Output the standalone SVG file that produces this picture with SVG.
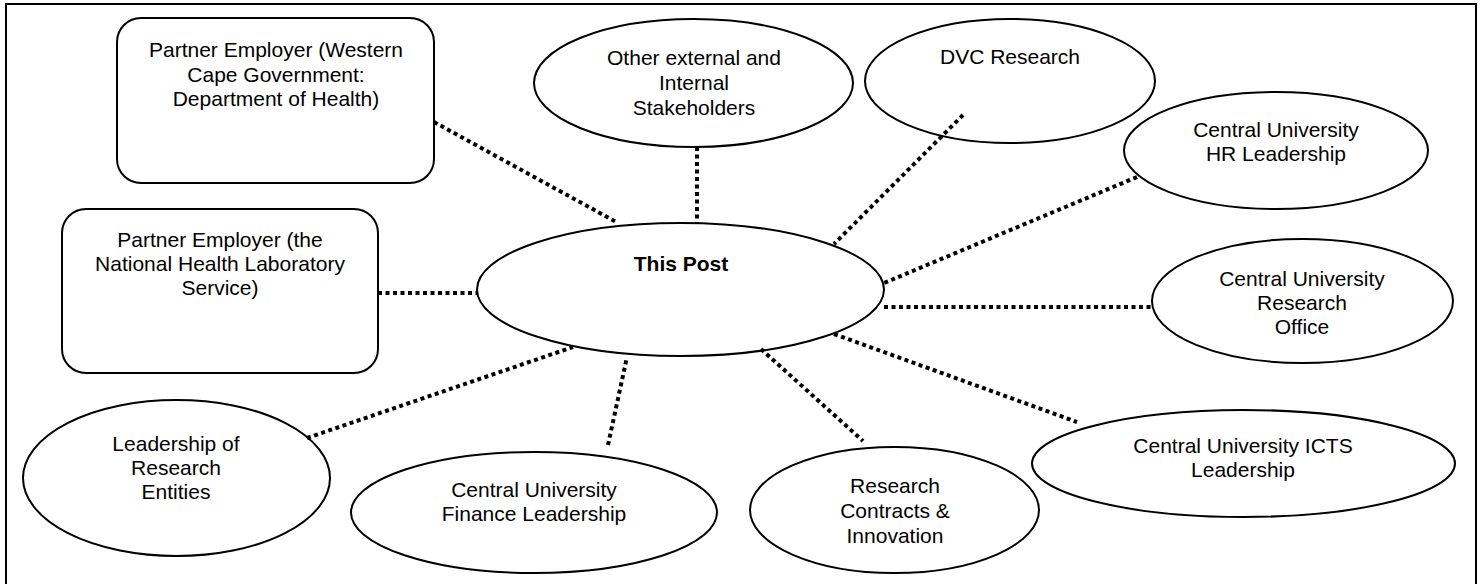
<svg xmlns="http://www.w3.org/2000/svg" width="1484" height="584" viewBox="0 0 1484 584">
<style>
.n{fill:#fff;stroke:#000;stroke-width:2}
.t{font-family:"Liberation Sans",Arial,sans-serif;font-size:21px;fill:#000;text-anchor:middle}
.b{font-weight:bold}
.c{stroke:#000;stroke-width:4;stroke-dasharray:4 3.5;fill:none}
</style>
<rect x="6" y="4" width="1470" height="590" fill="#fff" stroke="#000" stroke-width="2"/>
<g id="wcg">
<rect class="n" x="117" y="18" width="317" height="165" rx="24" ry="24"/>
<text class="t" x="276" y="57">Partner Employer (Western</text>
<text class="t" x="276" y="82">Cape Government:</text>
<text class="t" x="276" y="106">Department of Health)</text>
</g>
<g id="nhls">
<rect class="n" x="62" y="209" width="316" height="164" rx="24" ry="24"/>
<text class="t" x="220" y="247">Partner Employer (the</text>
<text class="t" x="220" y="271">National Health Laboratory</text>
<text class="t" x="220" y="295">Service)</text>
</g>
<g id="stakeholders">
<ellipse class="n" cx="693.5" cy="83" rx="159.5" ry="64"/>
<text class="t" x="694" y="65">Other external and</text>
<text class="t" x="694" y="90">Internal</text>
<text class="t" x="694" y="115">Stakeholders</text>
</g>
<g id="dvc">
<ellipse class="n" cx="1010" cy="81" rx="145" ry="62"/>
<text class="t" x="1010" y="64">DVC Research</text>
</g>
<g id="hr">
<ellipse class="n" cx="1276" cy="150.5" rx="152" ry="58.5"/>
<text class="t" x="1276" y="137">Central University</text>
<text class="t" x="1276" y="161">HR Leadership</text>
</g>
<g id="thispost">
<ellipse class="n" cx="680.5" cy="289.5" rx="203.5" ry="66.5"/>
<text class="t b" x="681" y="271">This Post</text>
</g>
<g id="researchoffice">
<ellipse class="n" cx="1302.5" cy="301" rx="150.5" ry="62"/>
<text class="t" x="1302" y="286">Central University</text>
<text class="t" x="1302" y="310">Research</text>
<text class="t" x="1302" y="334">Office</text>
</g>
<g id="entities">
<ellipse class="n" cx="176.5" cy="478" rx="153.5" ry="78"/>
<text class="t" x="176" y="451">Leadership of</text>
<text class="t" x="176" y="475">Research</text>
<text class="t" x="176" y="499">Entities</text>
</g>
<g id="finance">
<ellipse class="n" cx="534" cy="512.5" rx="183" ry="60.5"/>
<text class="t" x="534" y="497">Central University</text>
<text class="t" x="534" y="521">Finance Leadership</text>
</g>
<g id="contracts">
<ellipse class="n" cx="894.5" cy="510" rx="144.5" ry="63"/>
<text class="t" x="895" y="493">Research</text>
<text class="t" x="895" y="518">Contracts &amp;</text>
<text class="t" x="895" y="543">Innovation</text>
</g>
<g id="icts">
<ellipse class="n" cx="1243.5" cy="463.5" rx="211.5" ry="53.5"/>
<text class="t" x="1243" y="453">Central University ICTS</text>
<text class="t" x="1243" y="477">Leadership</text>
</g>
<g id="connectors">
<line class="c" x1="434" y1="122" x2="618" y2="223"/>
<line class="c" x1="697" y1="147" x2="697" y2="223"/>
<line class="c" x1="963" y1="115" x2="834" y2="244"/>
<line class="c" x1="1137" y1="177" x2="884" y2="283"/>
<line class="c" x1="884" y1="307" x2="1152" y2="307"/>
<line class="c" x1="378" y1="293" x2="477" y2="293"/>
<line class="c" x1="307" y1="438" x2="573" y2="347"/>
<line class="c" x1="608" y1="445" x2="627" y2="357"/>
<line class="c" x1="761" y1="349" x2="863" y2="441"/>
<line class="c" x1="834" y1="334" x2="1077" y2="422"/>
</g>
</svg>
